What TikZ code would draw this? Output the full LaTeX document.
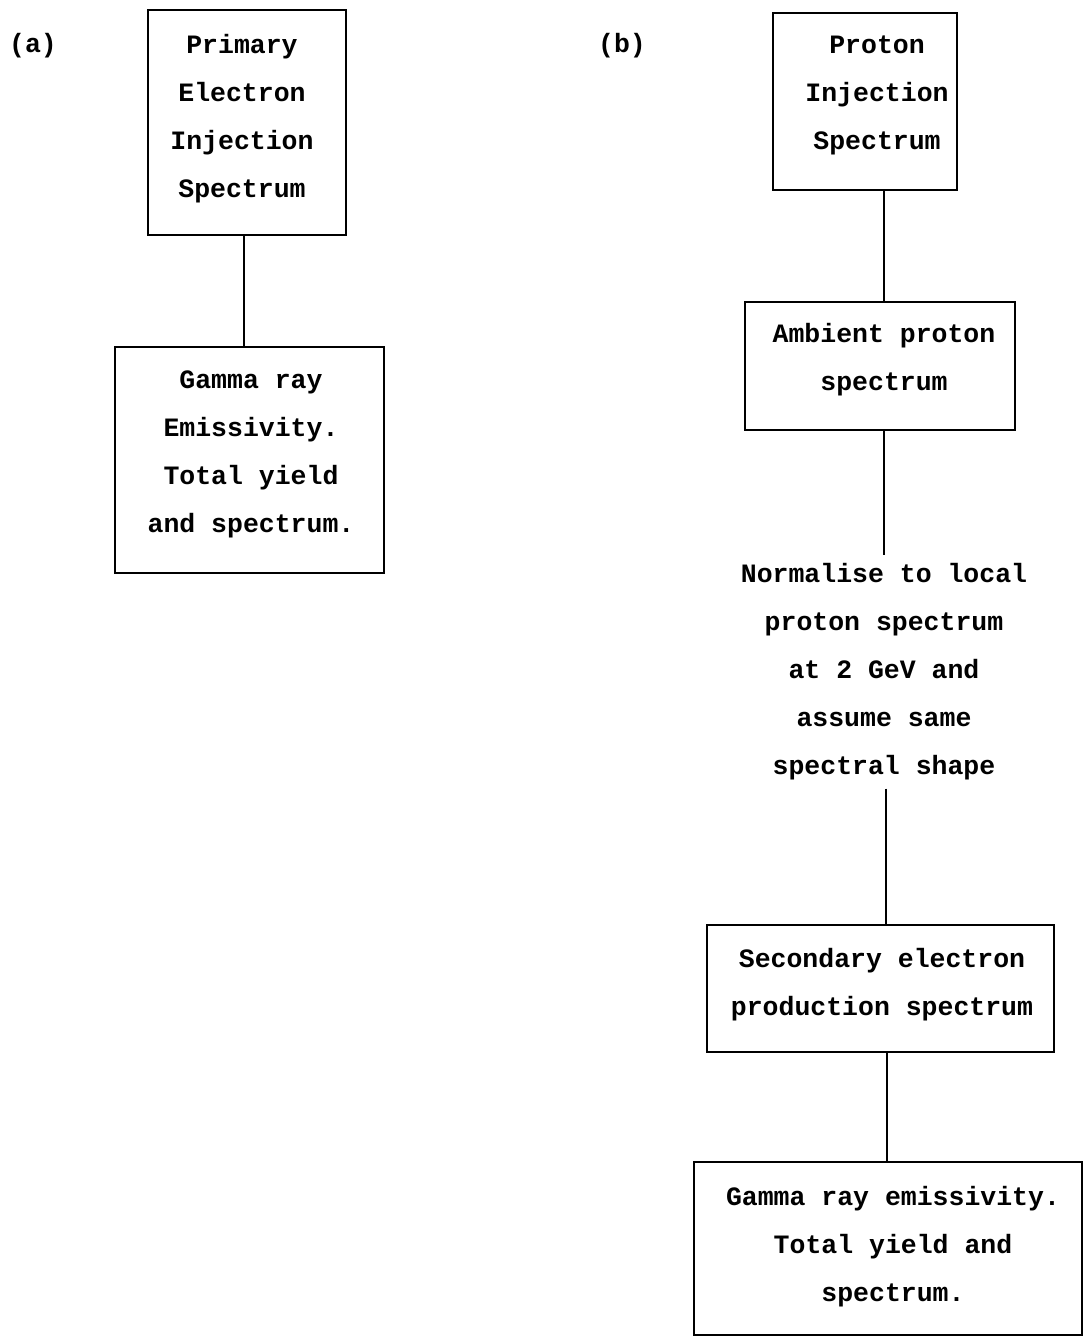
\documentclass[tikz,border=0pt]{standalone}
\usepackage{fontspec}
\setmainfont{Liberation Mono}
\begin{document}
\begin{tikzpicture}[x=1pt,y=-1pt,
  every node/.style={font=\bfseries\fontsize{26.5}{48}\selectfont, align=center, inner sep=0pt},
  box/.style={draw, line width=2.8pt, rectangle},
  conn/.style={line width=2.8pt}]
\useasboundingbox (0,0) rectangle (1084,1338);
% labels
\node (la) at (33,46) {(a)};
\node (lb) at (622,46) {(b)};
% (a) chain
\node[box, minimum width=198pt, minimum height=225pt] (A1) at (247,122.5) {};
\node (A1t) at (242,119) {Primary\\Electron\\Injection\\Spectrum};
\node[box, minimum width=269pt, minimum height=226pt] (A2) at (249.5,460) {};
\node (A2t) at (251,454.5) {Gamma ray\\Emissivity.\\Total yield\\and spectrum.};
\draw[conn] (A1.south -| 244,0) -- (A2.north -| 244,0);
% (b) chain
\node[box, minimum width=184pt, minimum height=177pt] (B1) at (865,101.5) {};
\node (B1t) at (877,95.5) {Proton\\Injection\\Spectrum};
\node[box, minimum width=270pt, minimum height=128pt] (B2) at (880,366) {};
\node (B2t) at (884,360) {Ambient proton\\spectrum};
\node[inner sep=8pt] (N) at (884,672)
  {Normalise to local\\proton spectrum\\at 2 GeV and\\assume same\\spectral shape};
\node[box, minimum width=347pt, minimum height=127pt] (B3) at (880.5,988.5) {};
\node (B3t) at (882,985) {Secondary electron\\production spectrum};
\node[box, minimum width=388pt, minimum height=173pt] (B4) at (888,1248.5) {};
\node (B4t) at (893,1247) {Gamma ray emissivity.\\Total yield and\\spectrum.};
\draw[conn] (B1.south -| 884,0) -- (B2.north -| 884,0);
\draw[conn] (B2.south -| 884,0) -- (N.north -| 884,0);
\draw[conn] (N.south -| 886,0) -- (B3.north -| 886,0);
\draw[conn] (B3.south -| 887,0) -- (B4.north -| 887,0);
\end{tikzpicture}
\end{document}
